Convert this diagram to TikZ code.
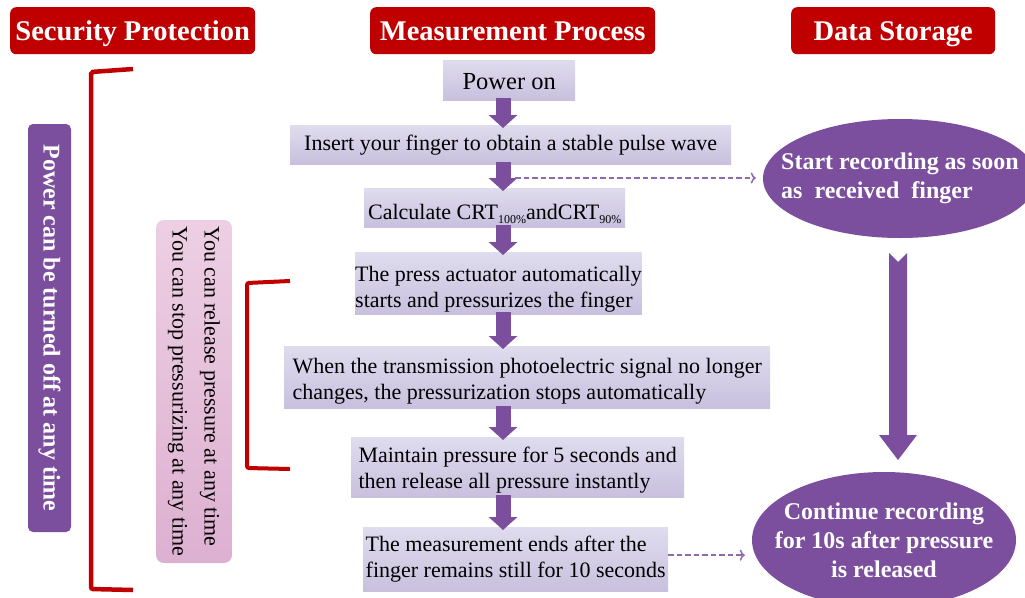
\documentclass[tikz,border=0pt]{standalone}
\usepackage{fontspec}
\setmainfont{Liberation Serif}
\usetikzlibrary{arrows.meta,calc,shapes.geometric}
\definecolor{hdrred}{HTML}{C00000}
\definecolor{vio}{HTML}{7B4F9D}
\definecolor{boxtop}{HTML}{DFDCEE}
\definecolor{boxbot}{HTML}{C8C0DE}
\definecolor{pinktop}{HTML}{EDCFE3}
\definecolor{pinkbot}{HTML}{DDB0D1}
\definecolor{dashcol}{HTML}{8D6AAE}
\newcommand{\lowsub}[1]{\raisebox{-4.5pt}{\fontsize{12}{12}\selectfont #1}}
\newcommand{\topstrut}[1]{\rule{0pt}{#1}}
\begin{document}
\begin{tikzpicture}[x=1pt,y=-1pt,
  header/.style={fill=hdrred, rounded corners=6pt, text=white, inner sep=0pt, anchor=north west,
    text height=20pt, text depth=1pt, font=\fontsize{28.5}{34}\selectfont\bfseries},
  stepbox/.style={top color=boxtop, bottom color=boxbot, draw=none, inner sep=0pt, anchor=north west,
    align=left, font=\fontsize{22}{26}\selectfont},
  blockarrow/.style={draw=vio, line width=15pt, -{Triangle[width=28pt,length=13pt]},
    shorten <=-2pt, shorten >=-3pt},
  dasharrow/.style={draw=dashcol, line width=1.5pt, dash pattern=on 5.5pt off 3pt,
    -{To[length=5pt,width=11pt]}},
  oval/.style={ellipse, fill=vio, inner sep=0pt},
  ovaltext/.style={text=white, inner sep=0pt, font=\fontsize{24}{29}\selectfont\bfseries},
  bracket/.style={draw=hdrred, line width=4.5pt, rounded corners=2pt}
]
\useasboundingbox[fill=white] (0,0) rectangle (1025,597);

% headers
\node[header, minimum width=245pt, minimum height=47pt] (hsec) at (10,7) {Security Protection};
\node[header, minimum width=285pt, minimum height=47pt] (hmeas) at (370,7) {Measurement Process};
\node[header, minimum width=204pt, minimum height=47pt] (hdata) at (791,7) {Data Storage};

% process steps
\node[stepbox, minimum width=132pt, minimum height=40pt, align=center, font=\fontsize{24.5}{29}\selectfont] (power) at (443,60) {\topstrut{19pt}Power on};
\node[stepbox, minimum width=441pt, minimum height=39pt] (insert) at (290,125) {Insert your finger to obtain a stable pulse wave};
\node[stepbox, minimum width=261pt, minimum height=39pt] (calc) at (364,188) {\topstrut{28pt}Calculate CRT\lowsub{100\%}andCRT\lowsub{90\%}};
\node[stepbox, minimum width=278pt, minimum height=62pt] (press) at (355,252) {\topstrut{27pt}The press actuator automatically\\starts and pressurizes the finger};
\node[stepbox, minimum width=486pt, minimum height=62pt] (when) at (284,346) {\topstrut{23pt}When the transmission photoelectric signal no longer\\changes, the pressurization stops automatically};
\node[stepbox, minimum width=333pt, minimum height=60pt] (maint) at (351,437) {\topstrut{22pt}Maintain pressure for 5 seconds and\\then release all pressure instantly};
\node[stepbox, minimum width=305pt, minimum height=64pt] (ends) at (363,527) {The measurement ends after the\\finger remains still for 10 seconds};

% block arrows
\coordinate (ax) at (503,0);
\draw[blockarrow] (power.south -| ax) -- (insert.north -| ax);
\draw[blockarrow] (insert.south -| ax) -- (calc.north -| ax);
\draw[blockarrow] (calc.south -| ax) -- (press.north -| ax);
\draw[blockarrow] (press.south -| ax) -- (when.north -| ax);
\draw[blockarrow] (when.south -| ax) -- (maint.north -| ax);
\draw[blockarrow] (maint.south -| ax) -- (ends.north -| ax);

% data storage
\node[oval, minimum width=274pt, minimum height=119pt] (start) at (900,178.5) {};
\node[ovaltext, align=left] (starttxt) at (start.center) {Start recording as soon\\as\ \ received\ \ finger};
\node[oval, minimum width=264pt, minimum height=136pt] (cont) at (884,540) {};
\node[ovaltext, align=center] (conttxt) at (cont.center) {Continue recording\\for 10s after pressure\\is released};

\coordinate (d1) at (515,178);
\draw[dasharrow, shorten >=7pt] (d1) -- (start.west |- d1);
\coordinate (d2) at ($(ends.east)+(0,-4)$);
\draw[dasharrow, shorten >=7pt] (d2) -- (cont.west |- d2);

% big arrow
\coordinate (bt) at (898,253);
\coordinate (bb) at (898,460);
\fill[vio] ($(bt)+(-9,0)$) -- ($(bt)+(0,9)$) -- ($(bt)+(9,0)$) -- ($(bb)+(9,-25)$)
  -- ($(bb)+(19,-25)$) -- (bb) -- ($(bb)+(-19,-25)$) -- ($(bb)+(-9,-25)$) -- cycle;

% security protection
\node[rotate=-90, fill=vio, rounded corners=5pt, minimum width=408pt, minimum height=43pt,
  inner sep=0pt, text=white, font=\fontsize{24}{29}\selectfont\bfseries] (poff) at (49.5,328)
  {Power can be turned off at any time};
\node[top color=pinktop, bottom color=pinkbot, rounded corners=8pt, minimum width=76pt,
  minimum height=343pt, inner sep=0pt] (pink) at (194,391.5) {};
\node[rotate=-90, align=left, inner sep=0pt, font=\fontsize{22}{32}\selectfont] (pinktxt) at (pink.center)
  {You can release pressure at any time\\You can stop pressurizing at any time};

\draw[bracket] (133,69) -- (91,72) -- (91,589) -- (133,590);
\draw[bracket, line width=4pt] (290,281) -- (247,283) -- (247,468) -- (290,469);
\end{tikzpicture}
\end{document}
